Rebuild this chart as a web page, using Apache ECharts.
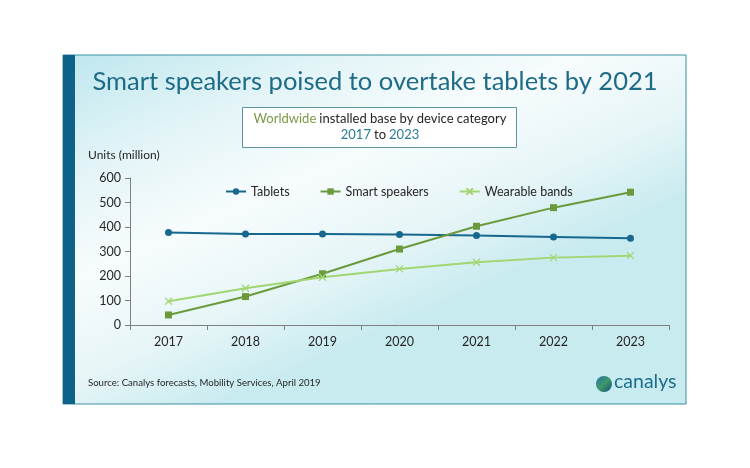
<!DOCTYPE html>
<html>
<head>
<meta charset="utf-8">
<script src="https://cdn.jsdelivr.net/npm/echarts@6/dist/echarts.min.js"></script>
<style>
html,body{margin:0;padding:0;background:#fff;}
#chart{width:750px;height:468px;}
</style>
</head>
<body>
<div id="chart"></div>
<script>
const years = ['2017','2018','2019','2020','2021','2022','2023'];
const tablets = [378, 371, 371, 369, 365, 359, 354];
const smartSpeakers = [41, 116, 209, 310, 403, 479, 542];
const wearableBands = [97, 150, 195, 229, 256, 275, 283];
const yTicks = [0, 100, 200, 300, 400, 500, 600];

const FONT = 'Lato, "Open Sans", sans-serif';
const chart = echarts.init(document.getElementById('chart'));

chart.setOption({
  backgroundColor: '#ffffff',
  animation: false,
  textStyle: { fontFamily: FONT },
  graphic: [
    { type: 'rect', z: -10, shape: { x: 63, y: 55, width: 623, height: 349 },
      style: { fill: new echarts.graphic.LinearGradient(0, 0, 0.25, 1, [
        { offset: 0, color: '#bde7ee' },
        { offset: 0.3, color: '#e3f4f7' },
        { offset: 0.55, color: '#f7fcfd' },
        { offset: 0.8, color: '#e6f5f7' },
        { offset: 1, color: '#c8ebf0' }
      ]), stroke: '#3b8fa3', lineWidth: 1 } },
    { type: 'rect', z: -9, shape: { x: 63, y: 55, width: 12, height: 349 },
      style: { fill: '#0e6189' } },
    { type: 'rect', z: -5, shape: { x: 242.5, y: 107.5, width: 274, height: 40 },
      style: { fill: '#ffffff', stroke: '#5d93a3', lineWidth: 1 } },
    { type: 'text', z: 5, x: 380, y: 111,
      style: { rich: {
          g: { fill: '#7b9a46', fontSize: 13, fontFamily: FONT, align: 'center' },
          d: { fill: '#262626', fontSize: 13, fontFamily: FONT, align: 'center' },
          b: { fill: '#2b7a96', fontSize: 13, fontFamily: FONT, align: 'center' }
        },
        text: '{g|Worldwide} {d|installed base by device category}\n{b|2017} {d|to} {b|2023}',
        align: 'center', textAlign: 'center', lineHeight: 16, fontFamily: FONT } },
    { type: 'text', z: 5, left: 88, top: 149,
      style: { text: 'Units (million)', fill: '#262626', fontSize: 12, fontFamily: FONT } },
    { type: 'text', z: 5, left: 88, top: 378,
      style: { text: 'Source: Canalys forecasts, Mobility Services, April 2019', fill: '#262626', fontSize: 9.6, fontFamily: FONT } },
    { type: 'circle', z: 5, shape: { cx: 604, cy: 384, r: 8 },
      style: { fill: new echarts.graphic.LinearGradient(0, 0, 1, 1, [
        { offset: 0, color: '#2a6fa8' },
        { offset: 0.5, color: '#3f9a6a' },
        { offset: 1, color: '#134d7a' }
      ]) } },
    { type: 'text', z: 5, left: 614, top: 372,
      style: { text: 'canalys', fill: '#1d6e8d', fontSize: 19.5, fontFamily: FONT } }
  ],
  title: {
    text: 'Smart speakers poised to overtake tablets by 2021',
    left: 'center', top: 64,
    textStyle: { color: '#1d6b87', fontSize: 25.5, fontWeight: 'normal', fontFamily: FONT }
  },
  legend: {
    top: 180, left: 220, itemGap: 30, itemWidth: 20, itemHeight: 8,
    textStyle: { color: '#262626', fontSize: 12.5, fontFamily: FONT },
    data: ['Tablets', 'Smart speakers', 'Wearable bands']
  },
  grid: { left: 130, right: 81, top: 178, bottom: 143 },
  xAxis: {
    type: 'category', data: years, boundaryGap: true,
    axisLine: { lineStyle: { color: '#7f7f7f' } },
    axisTick: { show: true, lineStyle: { color: '#7f7f7f' }, length: 5 },
    axisLabel: { color: '#262626', fontSize: 12.5, margin: 10, fontFamily: FONT }
  },
  yAxis: {
    type: 'value', min: yTicks[0], max: yTicks[yTicks.length - 1], interval: 100,
    axisLine: { show: true, lineStyle: { color: '#7f7f7f' } },
    axisTick: { show: true, lineStyle: { color: '#7f7f7f' }, length: 5 },
    splitLine: { show: false },
    axisLabel: { color: '#262626', fontSize: 12.5, margin: 9, fontFamily: FONT }
  },
  series: [
    { name: 'Tablets', type: 'line', data: tablets, symbol: 'circle', symbolSize: 7,
      lineStyle: { color: '#17678f', width: 2 }, itemStyle: { color: '#17678f' } },
    { name: 'Smart speakers', type: 'line', data: smartSpeakers, symbol: 'rect', symbolSize: 7,
      lineStyle: { color: '#6a9a3b', width: 2 }, itemStyle: { color: '#6a9a3b' } },
    { name: 'Wearable bands', type: 'line', data: wearableBands,
      symbol: 'path://M0,0L10,10M10,0L0,10', symbolSize: 7,
      lineStyle: { color: '#a2d672', width: 2 },
      itemStyle: { color: 'none', borderColor: '#a2d672', borderWidth: 1.2 } }
  ]
});
</script>
</body>
</html>
